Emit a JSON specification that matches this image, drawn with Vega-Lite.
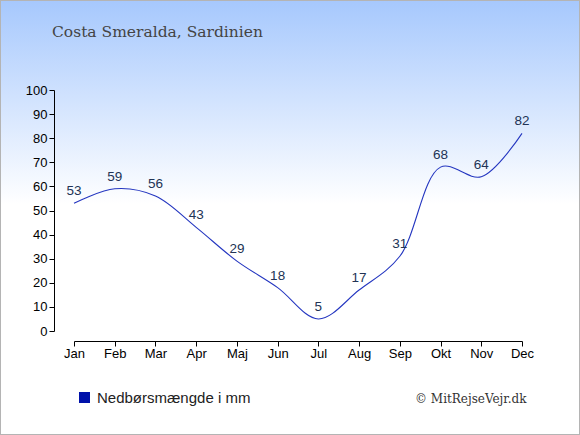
{
  "$schema": "https://vega.github.io/schema/vega-lite/v6.json",
  "width": 580,
  "height": 435,
  "autosize": {"type": "none"},
  "padding": 0,
  "background": "#ffffff",
  "view": {
    "fill": {
      "gradient": "linear",
      "x1": 0, "y1": 0, "x2": 0, "y2": 1,
      "stops": [
        {"offset": 0, "color": "#a6c8fd"},
        {"offset": 0.47, "color": "#ffffff"},
        {"offset": 1, "color": "#ffffff"}
      ]
    },
    "stroke": "#b4b4b4",
    "strokeWidth": 2
  },
  "title": {
    "text": "Costa Smeralda, Sardinien",
    "anchor": "start",
    "frame": "group",
    "dx": 52,
    "offset": -52,
    "baseline": "alphabetic",
    "font": "DejaVu Serif",
    "fontSize": 15.5,
    "fontWeight": "normal",
    "color": "#444444"
  },
  "data": {
    "values": [
      {"month": "Jan", "mm": 53},
      {"month": "Feb", "mm": 59},
      {"month": "Mar", "mm": 56},
      {"month": "Apr", "mm": 43},
      {"month": "Maj", "mm": 29},
      {"month": "Jun", "mm": 18},
      {"month": "Jul", "mm": 5},
      {"month": "Aug", "mm": 17},
      {"month": "Sep", "mm": 31},
      {"month": "Okt", "mm": 68},
      {"month": "Nov", "mm": 64},
      {"month": "Dec", "mm": 82}
    ]
  },
  "encoding": {
    "x": {
      "field": "month",
      "type": "ordinal",
      "sort": null,
      "scale": {"type": "point", "padding": 0, "range": [74, 522]},
      "axis": {
        "labelAngle": 0,
        "offset": -94,
        "labelPadding": 1,
        "title": "© MitRejseVejr.dk",
        "titleX": 526,
        "titleY": 61,
        "titleAlign": "right",
        "titleAnchor": null,
        "titleBaseline": "alphabetic",
        "titleFont": "DejaVu Serif",
        "titleFontSize": 12,
        "titleFontWeight": "normal",
        "titleColor": "#333333"
      }
    },
    "y": {
      "field": "mm",
      "type": "quantitative",
      "scale": {"domain": [0, 100], "nice": false, "range": [331, 90]},
      "axis": {
        "values": [0, 10, 20, 30, 40, 50, 60, 70, 80, 90, 100],
        "offset": -54,
        "title": null
      }
    }
  },
  "layer": [
    {
      "mark": {"type": "line", "interpolate": "catmull-rom", "strokeWidth": 1.1},
      "encoding": {
        "color": {
          "datum": "Nedbørsmængde i mm",
          "scale": {"range": ["#2436c0"]},
          "legend": {
            "title": null,
            "orient": "none",
            "legendX": 77,
            "legendY": 390,
            "padding": 0,
            "symbolType": "square",
            "symbolSize": 121,
            "symbolFillColor": "#0011aa",
            "symbolStrokeColor": "#0011aa",
            "symbolStrokeWidth": 0,
            "labelFont": "Liberation Sans",
            "labelFontSize": 15,
            "labelColor": "#222222",
            "labelOffset": 5
          }
        }
      }
    },
    {
      "mark": {"type": "text", "dy": -12, "font": "Liberation Sans", "fontSize": 13.5, "color": "#223355"},
      "encoding": {"text": {"field": "mm", "type": "quantitative"}}
    }
  ],
  "config": {
    "axis": {
      "grid": false,
      "domainColor": "#000000",
      "tickColor": "#000000",
      "tickSize": 5,
      "labelFont": "Liberation Sans",
      "labelFontSize": 13,
      "labelColor": "#000000",
      "labelPadding": 2
    }
  }
}
